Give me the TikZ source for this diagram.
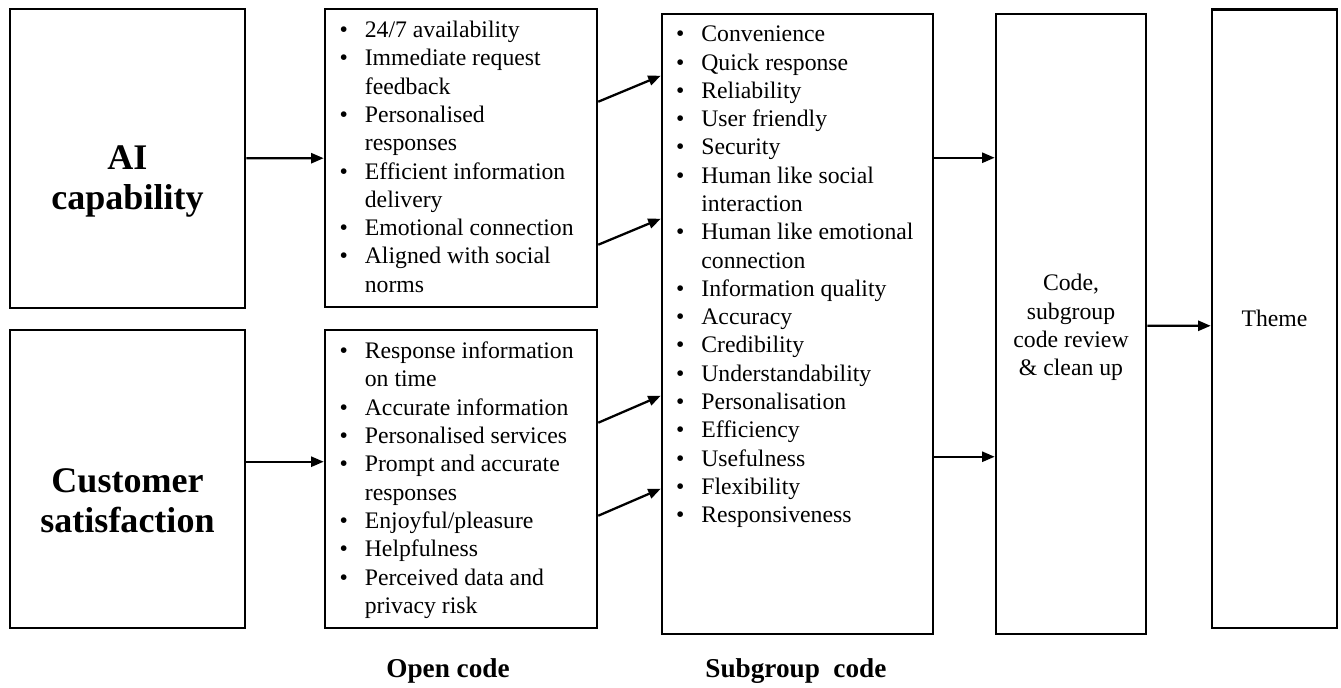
\documentclass[tikz,border=0pt]{standalone}
\usepackage{fontspec}
\setmainfont{Liberation Serif}
\usepackage{tikz}
\usetikzlibrary{arrows.meta, positioning, calc}

\begin{document}
\begin{tikzpicture}[
    x=0.02cm, y=-0.02cm,
    box/.style={rectangle, draw, line width=1.5pt, inner sep=0pt},
    lbl/.style={anchor=base, inner sep=0pt, font=\fontsize{20.5}{22.5}\selectfont\bfseries},
    lst/.style={anchor=base west, inner sep=0pt, font=\fontsize{13.5}{16.1}\selectfont},
    txt/.style={anchor=base, inner sep=0pt, font=\fontsize{13.5}{16.1}\selectfont},
    colcap/.style={anchor=base west, inner sep=0pt, font=\fontsize{15.5}{17}\selectfont\bfseries},
    arrow/.style={-{Triangle[length=2.5mm, width=2mm]}, line width=1.3pt}
]
\useasboundingbox (0,0) rectangle (1341,688);

% Column 1 - Themes of interest
\node[box, minimum width=4.7cm, minimum height=5.98cm] (ai) at (127.5,158.5) {};
\node[box, minimum width=4.7cm, minimum height=5.96cm] (cs) at (127.5,479) {};
\node[lbl] (ailbl) at (127.5,170) {\begin{tabular}[t]{@{}c@{}}AI\\capability\end{tabular}};
\node[lbl] (cslbl) at (127.5,493) {\begin{tabular}[t]{@{}c@{}}Customer\\satisfaction\end{tabular}};

% Column 2 - Open code
\node[box, minimum width=5.44cm, minimum height=5.96cm] (opentop) at (461,158) {};
\node[box, minimum width=5.44cm, minimum height=5.96cm] (openbot) at (461,479) {};

\node[lst] (opentoplst) at ($(opentop.north west)+(15.5,30)$) {\begin{tabular}[t]{@{}l@{\hspace{0.34cm}}l@{}}
\textbullet & 24/7 availability\\
\textbullet & Immediate request\\
 & feedback\\
\textbullet & Personalised\\
 & responses\\
\textbullet & Efficient information\\
 & delivery\\
\textbullet & Emotional connection\\
\textbullet & Aligned with social\\
 & norms
\end{tabular}};

\node[lst] (openbotlst) at ($(openbot.north west)+(15.5,30)$) {\begin{tabular}[t]{@{}l@{\hspace{0.34cm}}l@{}}
\textbullet & Response information\\
 & on time\\
\textbullet & Accurate information\\
\textbullet & Personalised services\\
\textbullet & Prompt and accurate\\
 & responses\\
\textbullet & Enjoyful/pleasure\\
\textbullet & Helpfulness\\
\textbullet & Perceived data and\\
 & privacy risk
\end{tabular}};

\node[colcap] (opencap) at (386,677) {Open code};

% Column 3 - Subgroup code
\node[box, minimum width=5.42cm, minimum height=12.4cm] (subgrp) at (797.5,324) {};
\node[lst] (subgrplst) at ($(subgrp.north west)+(15,29)$) {\begin{tabular}[t]{@{}l@{\hspace{0.34cm}}l@{}}
\textbullet & Convenience\\
\textbullet & Quick response\\
\textbullet & Reliability\\
\textbullet & User friendly\\
\textbullet & Security\\
\textbullet & Human like social\\
 & interaction\\
\textbullet & Human like emotional\\
 & connection\\
\textbullet & Information quality\\
\textbullet & Accuracy\\
\textbullet & Credibility\\
\textbullet & Understandability\\
\textbullet & Personalisation\\
\textbullet & Efficiency\\
\textbullet & Usefulness\\
\textbullet & Flexibility\\
\textbullet & Responsiveness
\end{tabular}};

\node[colcap] (subgrpcap) at (705,677) {Subgroup\ \ code};

% Column 4 - Review and theme
\node[box, minimum width=3cm, minimum height=12.4cm] (review) at (1071,324) {};
\node[txt] (reviewtxt) at (1071,291) {\begin{tabular}[t]{@{}c@{}}Code,\\subgroup\\code review\\\& clean up\end{tabular}};

\node[box, minimum width=2.5cm, minimum height=12.37cm] (theme) at (1274.5,318.8) {};
\node[txt] (themetxt) at (1274.5,327) {Theme};

% Arrows - Into open code
\draw[arrow] (ai) -- (opentop);
\draw[arrow] ($(cs.north east)+(0,133)$) -- ($(openbot.north west)+(0,133)$);

% Arrows - Open code to subgroup code
\draw[arrow] ($(opentop.north east)+(0,94)$) -- ($(subgrp.north west)+(0,63)$);
\draw[arrow] ($(opentop.north east)+(0,237)$) -- ($(subgrp.north west)+(0,206)$);
\draw[arrow] ($(openbot.north east)+(0,94)$) -- ($(subgrp.north west)+(0,383)$);
\draw[arrow] ($(openbot.north east)+(0,187)$) -- ($(subgrp.north west)+(0,476)$);

% Arrows - Subgroup code to review, review to theme
\draw[arrow] ($(subgrp.north east)+(0,145)$) -- ($(review.north west)+(0,145)$);
\draw[arrow] ($(subgrp.north east)+(0,444)$) -- ($(review.north west)+(0,444)$);
\draw[arrow] ($(review.north east)+(0,313)$) -- ($(theme.north west)+(0,317.5)$);

\end{tikzpicture}
\end{document}
